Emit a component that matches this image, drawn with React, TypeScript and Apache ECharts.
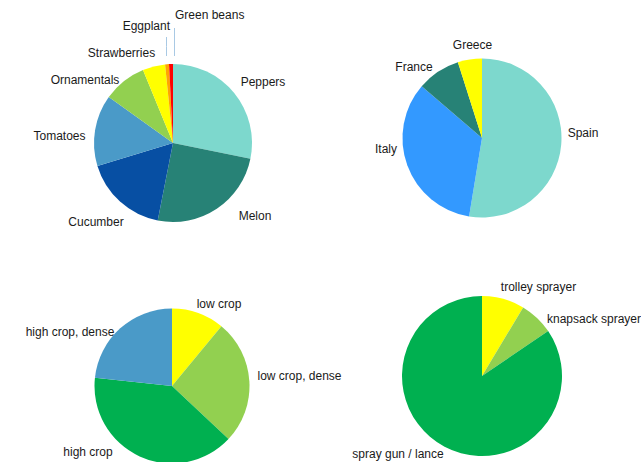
import React, { useEffect, useRef } from "react";
import * as echarts from "echarts";

const crops = ["Peppers", "Melon", "Cucumber", "Tomatoes", "Ornamentals", "Strawberries", "Eggplant", "Green beans"];
const cropShare = [28.2, 24.9, 17.2, 14.6, 8.9, 4.6, 0.8, 0.8];
const cropColors = ["#7dd8cd", "#278276", "#074fa3", "#4a9ac8", "#92d050", "#ffff00", "#ffa500", "#ff0000"];

const countries = ["Spain", "Italy", "France", "Greece"];
const countryShare = [52.6, 33.7, 8.8, 4.9];
const countryColors = ["#7dd8cd", "#3399ff", "#278276", "#ffff00"];

const cropTypes = ["low crop", "low crop, dense", "high crop", "high crop, dense"];
const cropTypeShare = [11.0, 26.0, 39.7, 23.3];
const cropTypeColors = ["#ffff00", "#92d050", "#00b050", "#4a9ac8"];

const equipment = ["trolley sprayer", "knapsack sprayer", "spray gun / lance"];
const equipmentShare = [8.6, 6.9, 84.5];
const equipmentColors = ["#ffff00", "#92d050", "#00b050"];

// label placement, as offsets from each pie's centre (layout, not data)
type LabelPos = { dx: number; dy: number; align?: string; line?: [number, number, number] };
const cropLabelPos: LabelPos[] = [
  { dx: 90, dy: -61 },
  { dx: 82, dy: 73 },
  { dx: -77, dy: 79 },
  { dx: -113.5, dy: -7 },
  { dx: -88, dy: -63 },
  { dx: -51.5, dy: -90.5 },
  { dx: -3, dy: -117, align: "right", line: [-6.5, -87, -106] },
  { dx: 2, dy: -128, align: "left", line: [1.5, -87, -115] },
];
const countryLabelPos: LabelPos[] = [
  { dx: 101, dy: -5 },
  { dx: -96, dy: 11 },
  { dx: -68, dy: -71 },
  { dx: -9.5, dy: -93 },
];
const cropTypeLabelPos: LabelPos[] = [
  { dx: 47, dy: -82 },
  { dx: 127.5, dy: -10 },
  { dx: -84, dy: 66 },
  { dx: -102, dy: -54 },
];
const equipmentLabelPos: LabelPos[] = [
  { dx: 56.5, dy: -89 },
  { dx: 65, dy: -57, align: "left" },
  { dx: -84, dy: 78 },
];

function makeSeries(
  names: string[],
  values: number[],
  colors: string[],
  center: [number, number],
  radius: number,
  pos: LabelPos[]
) {
  return {
    type: "pie",
    center,
    radius,
    startAngle: 90,
    clockwise: true,
    avoidLabelOverlap: false,
    label: {
      show: true,
      position: "outside",
      color: "#1a1a1a",
      fontSize: 12,
      fontFamily: "Liberation Sans, Arial, sans-serif",
      overflow: "none",
    },
    labelLine: { show: false },
    labelLayout: (params: any) => {
      const p = pos[params.dataIndex];
      const out: any = {
        x: center[0] + p.dx,
        y: center[1] + p.dy,
        align: p.align || "center",
        verticalAlign: "middle",
      };
      if (p.line) {
        const lx = center[0] + p.line[0];
        out.labelLinePoints = [
          [lx, center[1] + p.line[1]],
          [lx, center[1] + (p.line[1] + p.line[2]) / 2],
          [lx, center[1] + p.line[2]],
        ];
      }
      return out;
    },
    itemStyle: { borderWidth: 0 },
    data: names.map((n, i) => ({
      name: n,
      value: values[i],
      itemStyle: { color: colors[i] },
      labelLine: pos[i].line
        ? { show: true, lineStyle: { color: "#a9c9e4", width: 1 } }
        : { show: false },
    })),
  };
}

export default function App() {
  const ref = useRef<HTMLDivElement>(null);
  useEffect(() => {
    if (!ref.current) return;
    const chart = echarts.init(ref.current, null, { renderer: "svg" });
    chart.setOption({
      animation: false,
      backgroundColor: "#ffffff",
      series: [
        makeSeries(crops, cropShare, cropColors, [173, 143], 79, cropLabelPos),
        makeSeries(countries, countryShare, countryColors, [482, 138], 79.5, countryLabelPos),
        makeSeries(cropTypes, cropTypeShare, cropTypeColors, [172, 386], 77.5, cropTypeLabelPos),
        makeSeries(equipment, equipmentShare, equipmentColors, [482, 376], 80, equipmentLabelPos),
      ],
    });
    return () => chart.dispose();
  }, []);
  return <div ref={ref} style={{ position: "fixed", left: 0, top: 0, width: 641, height: 462 }} />;
}
